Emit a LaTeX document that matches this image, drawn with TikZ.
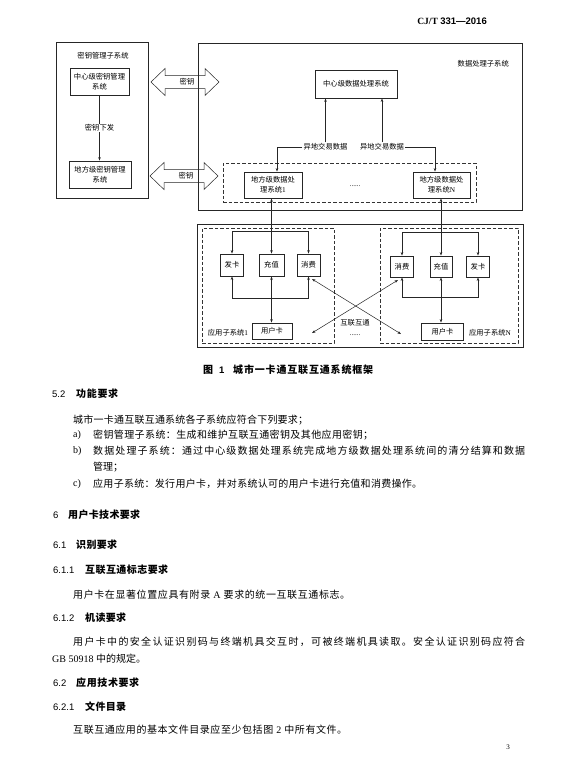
\documentclass[tikz,border=0pt]{standalone}
\usepackage{fontspec}
\setmainfont{Liberation Serif}
\setsansfont{Liberation Sans}
\newfontfamily\cjk{Noto Sans CJK SC}
\usetikzlibrary{arrows.meta,calc}
\ExplSyntaxOn
\NewDocumentCommand\spreadto{mm}{\hbox~to~#1{\tl_map_inline:nn{#2}{##1\hfil}\unskip}}
\ExplSyntaxOff
\newcommand\mydfont{\cjk\fontsize{7.3}{10}\selectfont}
\newcommand\mybfont{\cjk\fontsize{10}{12}\selectfont}
\newcommand\myhfont{\cjk\bfseries\fontsize{10}{12}\selectfont}
\newcommand\mynfont{\sffamily\fontsize{9.5}{11}\selectfont}
\newcommand\mylfont{\rmfamily\fontsize{10}{12}\selectfont}
\tikzset{
  ln/.style={draw=black!85, line width=0.5pt},
  bx/.style={draw=black!85, line width=0.9pt, inner sep=0pt, align=center, font=\mydfont},
  outerbox/.style={draw=black!85, line width=1pt, inner sep=0pt},
  dbox/.style={draw=black!80, line width=0.6pt, dash pattern=on 3.5pt off 2pt, inner sep=0pt},
  arr/.style={ln, -{Stealth[length=3.5pt,width=2.6pt]}},
  darr/.style={ln, {Stealth[length=3.5pt,width=2.6pt]}-{Stealth[length=3.5pt,width=2.6pt]}},
  lbl/.style={inner sep=1pt, font=\mydfont, text=black},
  body/.style={inner sep=0pt, anchor=west, font=\mybfont, text=black},
  head/.style={inner sep=0pt, anchor=west, font=\myhfont, text=black},
  num/.style={inner sep=0pt, anchor=west, font=\mynfont, text=black},
  lab/.style={inner sep=0pt, anchor=west, font=\mylfont, text=black},
}
\begin{document}
\begin{tikzpicture}[x=1pt,y=-1pt]
\useasboundingbox[fill=white] (0,0) rectangle (566,766);

% header
\node[anchor=east, inner sep=0pt] (hdr) at (487,21) {\fontsize{9.5}{10}\selectfont\bfseries CJ/T\ {\sffamily 331—2016}};

% ---------------- key management subsystem
\node[outerbox, minimum width=92pt, minimum height=156pt] (keysys) at (102,120) {};
\node[lbl] (keyt) at (103,56) {密钥管理子系统};
\node[bx, minimum width=59pt, minimum height=27pt] (ckey) at (99.5,81.5) {中心级密钥管理\\系统};
\node[bx, minimum width=62pt, minimum height=27pt] (lkey) at (100,174.5) {地方级密钥管理\\系统};
\draw[arr] (ckey.south) -- (ckey.south |- lkey.north) node[midway, fill=white, lbl] (kdl) {密钥下发};

% big double arrows
\draw[ln] (151,82) -- (165,68.5) -- (165,75.5) -- (205,75.5) -- (205,68.5) -- (219,82)
  -- (205,95.5) -- (205,88.5) -- (165,88.5) -- (165,95.5) -- cycle;
\node[lbl] (k1) at (187,82) {密钥};
\draw[ln] (150,176) -- (164,162.5) -- (164,169.5) -- (204,169.5) -- (204,162.5) -- (218,176)
  -- (204,189.5) -- (204,182.5) -- (164,182.5) -- (164,189.5) -- cycle;
\node[lbl] (k2) at (186,176) {密钥};

% ---------------- data processing subsystem
\node[outerbox, minimum width=324pt, minimum height=167pt] (datasys) at (360,126.5) {};
\node[lbl, anchor=east] (datat) at (510,64) {数据处理子系统};
\node[bx, minimum width=82pt, minimum height=28pt] (cdata) at (356,84) {中心级数据处理系统};
\node[dbox, minimum width=253pt, minimum height=39pt] (ldreg) at (349.5,182.5) {};
\node[bx, minimum width=58pt, minimum height=26pt] (ld1) at (273,185) {地方级数据处\\理系统{\rmfamily 1}};
\node[bx, minimum width=57pt, minimum height=26pt] (ldN) at (441.5,185) {地方级数据处\\理系统{\rmfamily N}};
\node[lbl, font=\rmfamily\fontsize{7}{8}\selectfont] (dots1) at (355,186) {......};
\node[lbl] (ex1) at (325.5,147) {异地交易数据};
\node[lbl] (ex2) at (382,147) {异地交易数据};
\draw[arr] (ex1.north) -- (ex1.north |- cdata.south);
\draw[arr] (ex2.north) -- (ex2.north |- cdata.south);
\draw[arr] (ex1.west) -| ($(ld1.north)+(4,0)$);
\draw[arr] (ex2.east) -| ($(ldN.north)+(-6.5,0)$);

% ---------------- application subsystem
\node[outerbox, minimum width=326pt, minimum height=123pt] (appsys) at (360,285.5) {};
\node[dbox, minimum width=132pt, minimum height=115pt] (app1) at (268,285.5) {};
\node[dbox, minimum width=138pt, minimum height=115pt] (appN) at (449,285.5) {};

\node[bx, minimum width=23pt, minimum height=22pt] (fk1) at (232,265) {发卡};
\node[bx, minimum width=25pt, minimum height=22pt] (cz1) at (271.5,265) {充值};
\node[bx, minimum width=23pt, minimum height=22pt] (xf1) at (308.5,265) {消费};
\node[bx, minimum width=40pt, minimum height=16pt] (uc1) at (272,331) {用户卡};

\node[bx, minimum width=23pt, minimum height=21pt] (xfN) at (402,266.5) {消费};
\node[bx, minimum width=22pt, minimum height=21pt] (czN) at (441,266.5) {充值};
\node[bx, minimum width=23pt, minimum height=21pt] (fkN) at (478,266.5) {发卡};
\node[bx, minimum width=42pt, minimum height=17pt] (ucN) at (442.5,331.5) {用户卡};

\coordinate (tb1) at (0,231);
\coordinate (bb1) at (0,298);
\coordinate (tbN) at (0,232);
\coordinate (bbN) at (0,297.5);

\draw[darr] (ld1.south -| cz1.north) -- (cz1.north);
\draw[darr] (fk1.north) -- (fk1.north |- tb1) -- (xf1.north |- tb1) -- (xf1.north);
\draw[darr] (fk1.south) -- (fk1.south |- bb1) -- (xf1.south |- bb1) -- (xf1.south);
\draw[darr] (cz1.south) -- (cz1.south |- uc1.north);

\draw[darr] (ldN.south -| czN.north) -- (czN.north);
\draw[darr] (xfN.north) -- (xfN.north |- tbN) -- (fkN.north |- tbN) -- (fkN.north);
\draw[darr] (xfN.south) -- (xfN.south |- bbN) -- (fkN.south |- bbN) -- (fkN.south);
\draw[darr] (czN.south) -- (czN.south |- ucN.north);

\coordinate (a1) at (312,279);
\coordinate (a2) at (401,334);
\coordinate (b1) at (312,333);
\coordinate (b2) at (398,280);
\draw[darr] (a1) -- (a2);
\draw[darr] (b1) -- (b2);

\node[lbl] (an1) at (228,333) {应用子系统{\rmfamily 1}};
\node[lbl] (anN) at (490,333) {应用子系统{\rmfamily N}};
\node[lbl] (hlht) at (355,323) {互联互通};
\node[lbl, font=\rmfamily\fontsize{7}{8}\selectfont] (dots2) at (355,335) {......};

% ---------------- caption
\node[head] (capa) at (203,370) {图};
\node[num, font=\sffamily\bfseries\fontsize{9.5}{11}\selectfont] (capb) at (219,370) {1};
\node[head] (capc) at (233,370) {\spreadto{140pt}{城市一卡通互联互通系统框架}};

% ---------------- body text
\node[num] (n52) at (52,394) {5.2};
\node[head] (h52) at (76,394) {\spreadto{42pt}{功能要求}};
\node[body] (t1) at (73,420) {\spreadto{235pt}{城市一卡通互联互通系统各子系统应符合下列要求；}};
\node[lab] (la) at (73,435) {a)};
\node[body] (ta) at (93,435) {\spreadto{280pt}{密钥管理子系统：生成和维护互联互通密钥及其他应用密钥；}};
\node[lab] (lb) at (73,451) {b)};
\node[body] (tb) at (93,451) {\spreadto{432pt}{数据处理子系统：通过中心级数据处理系统完成地方级数据处理系统间的清分结算和数据}};
\node[body] (tb2) at (93,467) {管理；};
\node[lab] (lc) at (73,484) {c)};
\node[body] (tc) at (93,484) {\spreadto{329pt}{应用子系统：发行用户卡，并对系统认可的用户卡进行充值和消费操作。}};

\node[num] (n6) at (53,515) {6};
\node[head] (h6) at (68,515) {\spreadto{72pt}{用户卡技术要求}};
\node[num] (n61) at (53,545) {6.1};
\node[head] (h61) at (76,545) {\spreadto{41pt}{识别要求}};
\node[num] (n611) at (53,570) {6.1.1};
\node[head] (h611) at (85,570) {\spreadto{83pt}{互联互通标志要求}};
\node[body] (t611) at (73,595) {\spreadto{277pt}{用户卡在显著位置应具有附录{{\rmfamily\ A\ }}要求的统一互联互通标志。}};
\node[num] (n612) at (53,618) {6.1.2};
\node[head] (h612) at (85,618) {\spreadto{41pt}{机读要求}};
\node[body] (t612) at (73,642) {\spreadto{452pt}{用户卡中的安全认证识别码与终端机具交互时，可被终端机具读取。安全认证识别码应符合}};
\node[body] (t612b) at (52,659) {{\rmfamily GB 50918 }中的规定。};
\node[num] (n62) at (53,683) {6.2};
\node[head] (h62) at (76,683) {\spreadto{63pt}{应用技术要求}};
\node[num] (n621) at (53,707) {6.2.1};
\node[head] (h621) at (85,707) {\spreadto{41pt}{文件目录}};
\node[body] (t621) at (73,730) {\spreadto{274pt}{互联互通应用的基本文件目录应至少包括图{{\rmfamily\ 2\ }}中所有文件。}};
\node[inner sep=0pt, font=\rmfamily\fontsize{7}{8}\selectfont] (pg) at (508,747) {3};
\end{tikzpicture}
\end{document}
